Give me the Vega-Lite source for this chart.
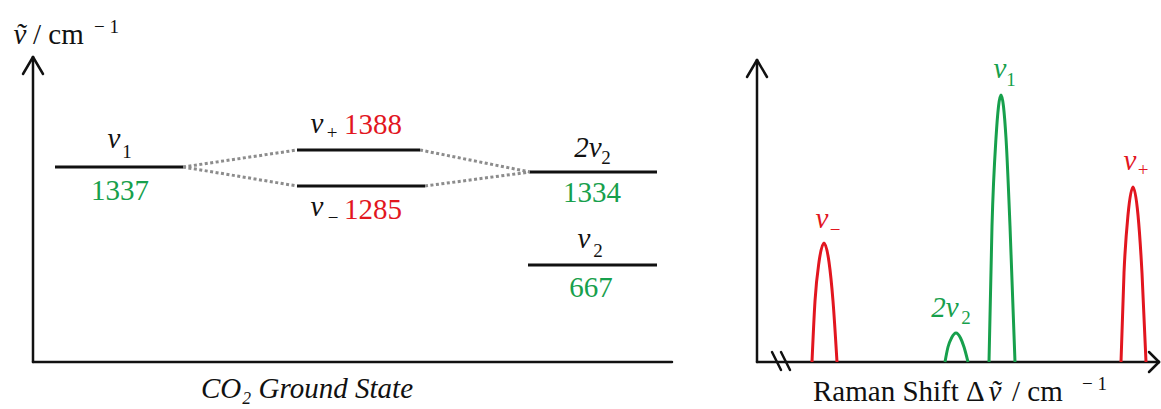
{
  "$schema": "https://vega.github.io/schema/vega-lite/v6.json",
  "width": 1161,
  "height": 409,
  "autosize": {"type": "fit", "contains": "padding"},
  "padding": 0,
  "background": "white",
  "config": {"view": {"stroke": null}},
  "datasets": {
    "axes": [
      {"x": 33, "y": 57, "x2": 33, "y2": 362},
      {"x": 33, "y": 57, "x2": 23, "y2": 74},
      {"x": 33, "y": 57, "x2": 43, "y2": 74},
      {"x": 33, "y": 362, "x2": 672, "y2": 362},
      {"x": 757, "y": 60, "x2": 757, "y2": 362},
      {"x": 757, "y": 60, "x2": 747, "y2": 77},
      {"x": 757, "y": 60, "x2": 767, "y2": 77},
      {"x": 757, "y": 362, "x2": 1159, "y2": 362},
      {"x": 1159, "y": 362, "x2": 1149, "y2": 352},
      {"x": 1159, "y": 362, "x2": 1149, "y2": 372},
      {"x": 772, "y": 352, "x2": 781, "y2": 370},
      {"x": 781, "y": 352, "x2": 790, "y2": 370}
    ],
    "levels": [
      {"level": "v1", "x": 55, "x2": 183, "y": 167},
      {"level": "v+", "x": 297, "x2": 420, "y": 150},
      {"level": "v-", "x": 297, "x2": 425, "y": 186},
      {"level": "2v2", "x": 530, "x2": 657, "y": 172},
      {"level": "v2", "x": 528, "x2": 657, "y": 265}
    ],
    "mixing": [
      {"x": 183, "y": 167, "x2": 297, "y2": 150},
      {"x": 183, "y": 167, "x2": 297, "y2": 186},
      {"x": 420, "y": 150, "x2": 530, "y2": 172},
      {"x": 425, "y": 186, "x2": 530, "y2": 172}
    ],
    "peaks": [
      {"peak": "v-", "kind": "mixed", "x": 812, "y": 362},
      {"peak": "v-", "kind": "mixed", "x": 815, "y": 301},
      {"peak": "v-", "kind": "mixed", "x": 819, "y": 262},
      {"peak": "v-", "kind": "mixed", "x": 824, "y": 243},
      {"peak": "v-", "kind": "mixed", "x": 829, "y": 262},
      {"peak": "v-", "kind": "mixed", "x": 833, "y": 301},
      {"peak": "v-", "kind": "mixed", "x": 837, "y": 362},
      {"peak": "2v2", "kind": "pure", "x": 945, "y": 362},
      {"peak": "2v2", "kind": "pure", "x": 948, "y": 347},
      {"peak": "2v2", "kind": "pure", "x": 951.5, "y": 338},
      {"peak": "2v2", "kind": "pure", "x": 956, "y": 333},
      {"peak": "2v2", "kind": "pure", "x": 960.5, "y": 338},
      {"peak": "2v2", "kind": "pure", "x": 964, "y": 347},
      {"peak": "2v2", "kind": "pure", "x": 968, "y": 362},
      {"peak": "v1", "kind": "pure", "x": 989, "y": 362},
      {"peak": "v1", "kind": "pure", "x": 992, "y": 226},
      {"peak": "v1", "kind": "pure", "x": 996, "y": 138},
      {"peak": "v1", "kind": "pure", "x": 1001, "y": 95},
      {"peak": "v1", "kind": "pure", "x": 1006, "y": 138},
      {"peak": "v1", "kind": "pure", "x": 1010, "y": 226},
      {"peak": "v1", "kind": "pure", "x": 1015, "y": 362},
      {"peak": "v+", "kind": "mixed", "x": 1121, "y": 362},
      {"peak": "v+", "kind": "mixed", "x": 1124, "y": 273},
      {"peak": "v+", "kind": "mixed", "x": 1128, "y": 215},
      {"peak": "v+", "kind": "mixed", "x": 1133, "y": 187},
      {"peak": "v+", "kind": "mixed", "x": 1138, "y": 215},
      {"peak": "v+", "kind": "mixed", "x": 1142, "y": 273},
      {"peak": "v+", "kind": "mixed", "x": 1146, "y": 362}
    ],
    "symbols": [
      {"t": "v", "x": 114, "y": 148, "kind": "plain"},
      {"t": "v", "x": 317, "y": 133, "kind": "plain"},
      {"t": "v", "x": 317, "y": 216, "kind": "plain"},
      {"t": "2v", "x": 588, "y": 157, "kind": "plain"},
      {"t": "v", "x": 584, "y": 248, "kind": "plain"},
      {"t": "v", "x": 822, "y": 228, "kind": "mixed"},
      {"t": "2v", "x": 945, "y": 317, "kind": "pure"},
      {"t": "v", "x": 1000, "y": 78, "kind": "pure"},
      {"t": "v", "x": 1130, "y": 170, "kind": "mixed"},
      {"t": "ṽ", "x": 20, "y": 44, "kind": "plain"},
      {"t": "ṽ", "x": 995, "y": 401, "kind": "plain"},
      {"t": "CO₂ Ground State", "x": 307, "y": 398, "kind": "plain"}
    ],
    "subscripts": [
      {"t": "1", "x": 127, "y": 158, "kind": "plain"},
      {"t": "+", "x": 332, "y": 139, "kind": "plain"},
      {"t": "−", "x": 333, "y": 224, "kind": "plain"},
      {"t": "2", "x": 606, "y": 164, "kind": "plain"},
      {"t": "2", "x": 598, "y": 257, "kind": "plain"},
      {"t": "−", "x": 835, "y": 236, "kind": "mixed"},
      {"t": "2", "x": 966, "y": 324, "kind": "pure"},
      {"t": "1", "x": 1011, "y": 86, "kind": "pure"},
      {"t": "+", "x": 1143, "y": 176, "kind": "mixed"}
    ],
    "numbers": [
      {"t": "1337", "x": 120, "y": 200, "kind": "pure"},
      {"t": "1388", "x": 373, "y": 134, "kind": "mixed"},
      {"t": "1285", "x": 373, "y": 219, "kind": "mixed"},
      {"t": "1334", "x": 592, "y": 202, "kind": "pure"},
      {"t": "667", "x": 591, "y": 297, "kind": "pure"}
    ],
    "titles": [
      {"t": "/ cm", "x": 33, "y": 44, "size": "main"},
      {"t": "− 1", "x": 94, "y": 33, "size": "sup"},
      {"t": "Raman Shift Δ", "x": 813, "y": 401, "size": "main"},
      {"t": "/ cm", "x": 1012, "y": 401, "size": "main"},
      {"t": "− 1", "x": 1082, "y": 390, "size": "sup"}
    ]
  },
  "layer": [
    {
      "data": {"name": "axes"},
      "mark": {"type": "rule", "color": "#111111", "strokeWidth": 2.5, "strokeCap": "round"},
      "encoding": {
        "x": {"field": "x", "type": "quantitative", "scale": {"domain": [0, 1161], "nice": false, "zero": false}, "axis": null},
        "y": {"field": "y", "type": "quantitative", "scale": {"domain": [0, 409], "nice": false, "zero": false, "reverse": true}, "axis": null},
        "x2": {"field": "x2"},
        "y2": {"field": "y2"}
      }
    },
    {
      "data": {"name": "mixing"},
      "mark": {"type": "rule", "color": "#8c8c8c", "strokeWidth": 3, "strokeDash": [3, 2.5]},
      "encoding": {
        "x": {"field": "x", "type": "quantitative"},
        "y": {"field": "y", "type": "quantitative"},
        "x2": {"field": "x2"},
        "y2": {"field": "y2"}
      }
    },
    {
      "data": {"name": "levels"},
      "mark": {"type": "rule", "color": "#111111", "strokeWidth": 3},
      "encoding": {
        "x": {"field": "x", "type": "quantitative"},
        "x2": {"field": "x2"},
        "y": {"field": "y", "type": "quantitative"}
      }
    },
    {
      "data": {"name": "peaks"},
      "mark": {"type": "line", "strokeWidth": 3, "interpolate": "monotone"},
      "encoding": {
        "x": {"field": "x", "type": "quantitative"},
        "y": {"field": "y", "type": "quantitative"},
        "detail": {"field": "peak"},
        "color": {"field": "kind", "type": "nominal", "scale": {"domain": ["plain", "mixed", "pure"], "range": ["#111111", "#e2161f", "#17a04c"]}, "legend": null}
      }
    },
    {
      "data": {"name": "symbols"},
      "mark": {"type": "text", "font": "Liberation Serif", "fontStyle": "italic", "fontSize": 29, "align": "center", "baseline": "alphabetic"},
      "encoding": {
        "x": {"field": "x", "type": "quantitative"},
        "y": {"field": "y", "type": "quantitative"},
        "text": {"field": "t"},
        "color": {"field": "kind", "type": "nominal", "legend": null}
      }
    },
    {
      "data": {"name": "subscripts"},
      "mark": {"type": "text", "font": "Liberation Serif", "fontSize": 19, "align": "center", "baseline": "alphabetic"},
      "encoding": {
        "x": {"field": "x", "type": "quantitative"},
        "y": {"field": "y", "type": "quantitative"},
        "text": {"field": "t"},
        "color": {"field": "kind", "type": "nominal", "legend": null}
      }
    },
    {
      "data": {"name": "numbers"},
      "mark": {"type": "text", "font": "Liberation Serif", "fontSize": 29, "align": "center", "baseline": "alphabetic"},
      "encoding": {
        "x": {"field": "x", "type": "quantitative"},
        "y": {"field": "y", "type": "quantitative"},
        "text": {"field": "t"},
        "color": {"field": "kind", "type": "nominal", "legend": null}
      }
    },
    {
      "data": {"name": "titles"},
      "transform": [{"filter": "datum.size === 'main'"}],
      "mark": {"type": "text", "font": "Liberation Serif", "fontSize": 29, "align": "left", "baseline": "alphabetic", "color": "#111111"},
      "encoding": {
        "x": {"field": "x", "type": "quantitative"},
        "y": {"field": "y", "type": "quantitative"},
        "text": {"field": "t"}
      }
    },
    {
      "data": {"name": "titles"},
      "transform": [{"filter": "datum.size === 'sup'"}],
      "mark": {"type": "text", "font": "Liberation Serif", "fontSize": 19, "align": "left", "baseline": "alphabetic", "color": "#111111"},
      "encoding": {
        "x": {"field": "x", "type": "quantitative"},
        "y": {"field": "y", "type": "quantitative"},
        "text": {"field": "t"}
      }
    }
  ]
}
